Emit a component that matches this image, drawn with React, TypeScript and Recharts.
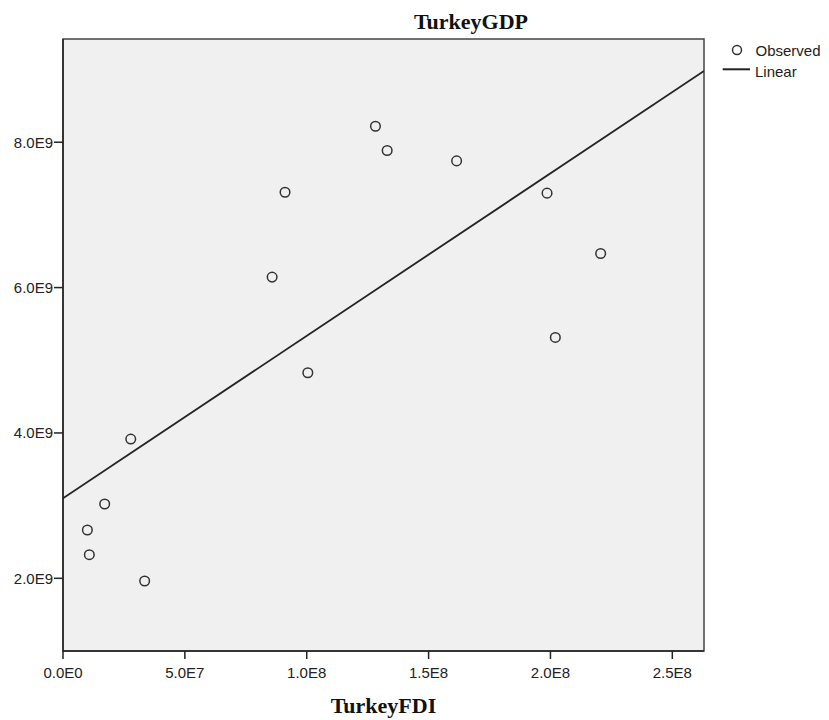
import React from "react";
import {
  ScatterChart,
  Scatter,
  XAxis,
  YAxis,
  CartesianGrid,
  ReferenceArea,
  Label,
} from "recharts";

const fdiValues = [1.0e7, 1.08e7, 1.71e7, 2.78e7, 3.35e7, 8.58e7, 9.11e7, 1.0045e8, 1.282e8, 1.33e8, 1.615e8, 1.986e8, 2.02e8, 2.206e8];
const gdpValues = [2.665e9, 2.325e9, 3.022e9, 3.916e9, 1.963e9, 6.144e9, 7.312e9, 4.828e9, 8.22e9, 7.886e9, 7.743e9, 7.299e9, 5.314e9, 6.469e9];

// Linear fit line end points
const linearX = [0, 2.63e8];
const linearY = [3.1e9, 8.98e9];

const xTicks = [0, 5e7, 1e8, 1.5e8, 2e8, 2.5e8];
const xTickLabels = ["0.0E0", "5.0E7", "1.0E8", "1.5E8", "2.0E8", "2.5E8"];
const yTicks = [2e9, 4e9, 6e9, 8e9];
const yTickLabels = ["2.0E9", "4.0E9", "6.0E9", "8.0E9"];

const xDomain: [number, number] = [0, 2.63e8];
const yDomain: [number, number] = [1.0e9, 9.42e9];

const observedData = fdiValues.map((x, i) => ({ x, y: gdpValues[i] }));
const linearData = linearX.map((x, i) => ({ x, y: linearY[i] }));

const sansFamily = "'Liberation Sans', Arial, sans-serif";
const serifFamily = "'Liberation Serif', 'Times New Roman', serif";
const tickFont = { fontFamily: sansFamily, fontSize: 15, fill: "#222" };

const CircleShape = (props: any) => (
  <circle cx={props.cx} cy={props.cy} r={4.8} fill="none" stroke="#333" strokeWidth={1.5} />
);

const LegendBox = () => (
  <svg width={115} height={45} style={{ position: "absolute", left: 715, top: 35, display: "block" }}>
    <circle cx={22} cy={15} r={4.5} fill="none" stroke="#333" strokeWidth={1.5} />
    <text x={40.5} y={15} dominantBaseline="central" style={{ fontFamily: sansFamily, fontSize: 15, fill: "#222" }}>
      Observed
    </text>
    <line x1={7.7} x2={35} y1={34.3} y2={34.3} stroke="#222" strokeWidth={2} />
    <text x={40} y={36.5} dominantBaseline="central" style={{ fontFamily: sansFamily, fontSize: 15, fill: "#222" }}>
      Linear
    </text>
  </svg>
);

export default function App() {
  return (
    <div style={{ position: "absolute", left: 0, top: 0, width: 829, height: 720, background: "#fff" }}>
      <ScatterChart width={829} height={720} margin={{ top: 39, right: 125, bottom: 0, left: 0 }}>
        <CartesianGrid fill="#f0f0f0" horizontal={false} vertical={false} stroke="none" />
        <XAxis
          type="number"
          dataKey="x"
          domain={xDomain}
          ticks={xTicks}
          tickFormatter={(v: number) => xTickLabels[xTicks.indexOf(v)] ?? ""}
          allowDataOverflow
          height={69}
          tick={tickFont}
          tickSize={8}
          tickMargin={8}
          axisLine={{ stroke: "#222", strokeWidth: 1.5 }}
          tickLine={{ stroke: "#222", strokeWidth: 1.5 }}
        >
          <Label
            value="TurkeyFDI"
            position="insideBottom"
            offset={7}
            style={{ fontFamily: serifFamily, fontWeight: "bold", fontSize: 22, fill: "#111" }}
          />
        </XAxis>
        <YAxis
          type="number"
          dataKey="y"
          domain={yDomain}
          ticks={yTicks}
          tickFormatter={(v: number) => yTickLabels[yTicks.indexOf(v)] ?? ""}
          allowDataOverflow
          width={63}
          tick={tickFont}
          tickSize={9}
          tickMargin={1}
          axisLine={{ stroke: "#222", strokeWidth: 1.5 }}
          tickLine={{ stroke: "#222", strokeWidth: 1.5 }}
        />
        <ReferenceArea
          x1={xDomain[0]}
          x2={xDomain[1]}
          y1={yDomain[0]}
          y2={yDomain[1]}
          fill="none"
          stroke="#444"
          strokeWidth={1.5}
          ifOverflow="visible"
        />
        <Scatter
          data={linearData}
          line={{ stroke: "#222", strokeWidth: 1.8 }}
          shape={() => null}
          isAnimationActive={false}
        />
        <Scatter data={observedData} shape={CircleShape} isAnimationActive={false} />
      </ScatterChart>
      <div
        style={{
          position: "absolute",
          left: 371,
          top: 10,
          width: 200,
          textAlign: "center",
          fontFamily: serifFamily,
          fontWeight: "bold",
          fontSize: 22,
          lineHeight: "24px",
          color: "#111",
        }}
      >
        TurkeyGDP
      </div>
      <LegendBox />
    </div>
  );
}
